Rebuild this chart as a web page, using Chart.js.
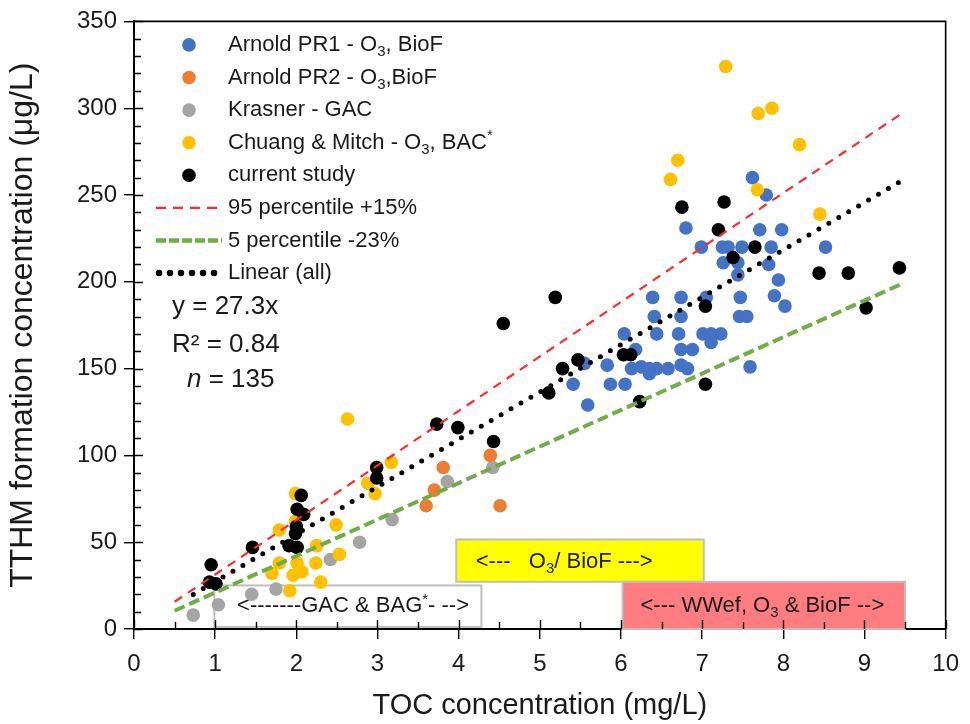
<!DOCTYPE html>
<html>
<head>
<meta charset="utf-8">
<script src="https://cdn.jsdelivr.net/npm/chart.js@4.4.1/dist/chart.umd.min.js"></script>
<style>
  html, body { margin: 0; padding: 0; background: #ffffff; }
  #wrap { width: 970px; height: 724px; }
</style>
</head>
<body>
<div id="wrap"><canvas id="chart" width="970" height="724"></canvas></div>
<script>
// TOC (mg/L) vs TTHM formation (µg/L), one [toc, tthm] pair per sample
const arnoldPR1 = [
  [7.62,260],[7.79,250],[6.80,231],[7.71,230],[7.98,230],[6.99,220],[7.25,220],[7.32,220],
  [7.49,220],[7.85,220],[8.52,220],[7.26,211],[7.44,211],[7.82,210],[7.44,204],[7.94,201],
  [7.89,192],[8.02,186],[7.47,191],[7.46,180],[7.55,180],[6.39,191],[6.74,191],[7.05,191],
  [6.41,180],[6.74,180],[6.04,170],[6.44,170],[6.71,170],[7.01,170],[7.11,170],[7.23,170],
  [7.11,165],[6.18,161],[6.74,161],[6.88,161],[5.83,152],[6.13,150],[6.25,151],[6.35,150],
  [6.44,150],[6.58,150],[6.74,152],[6.82,150],[6.35,147],[5.55,153],[5.41,141],[5.87,141],
  [6.05,141],[5.59,129],[7.59,151]
];
const arnoldPR2 = [[3.60,71],[3.70,80],[3.81,93],[4.39,100],[4.51,71]];
const krasner = [[0.73,8],[1.04,14],[1.45,20],[1.75,23],[2.42,40],[2.78,50],[3.18,63],[3.86,85],[4.42,93]];
const chuangMitch = [
  [7.29,324],[7.69,297],[7.86,300],[8.20,279],[6.70,270],[6.61,259],[7.68,253],[8.45,239],
  [2.63,121],[3.17,96],[2.88,84],[2.97,78],[1.99,78],[1.79,57],[2.49,60],[1.99,62],
  [2.25,48],[2.53,43],[1.79,38],[2.01,38],[2.24,38],[1.70,32],[1.96,31],[2.07,33],
  [2.30,27],[1.92,22]
];
const currentStudy = [
  [5.19,191],[6.75,243],[7.27,246],[7.20,230],[7.65,220],[7.38,214],[8.44,205],[8.80,205],
  [9.43,208],[7.04,186],[9.02,185],[4.55,176],[5.47,155],[5.28,150],[5.11,136],[6.03,158],
  [6.12,158],[7.04,141],[6.23,131],[3.73,118],[3.99,116],[4.43,108],[2.99,93],[2.99,87],
  [2.06,77],[2.01,69],[2.09,66],[2.00,59],[1.99,55],[1.91,48],[2.01,47],[1.46,47],
  [0.95,37],[0.93,27],[1.01,26]
];

// Regression through the origin and its percentile envelope
const fitSlope = 27.3;
const fitR2 = 0.84;
const sampleCount = 135;
const upperPct = 0.15;
const lowerPct = -0.23;
const fitRange = [0.73, 9.43];
const bandRange = [0.5, 9.45];

// Axis ticks
const xTicks = [0, 1, 2, 3, 4, 5, 6, 7, 8, 9, 10];
const yTicks = [0, 50, 100, 150, 200, 250, 300, 350];

// Treatment-regime bands along the TOC axis
const regimeBands = [
  { x0: 3.97, x1: 7.02, y0: 27.2, y1: 51.6, fill: '#FFFF00', text: '<---   O_{3}/ BioF --->', tx: 4.21, ty: 38.5 },
  { x0: 6.02, x1: 9.50, y0: 0,    y1: 27.2, fill: '#FF7C80', text: '<--- WWef, O_{3} & BioF -->', tx: 6.24, ty: 13.5 },
  { x0: 0.99, x1: 4.28, y0: 1.2,  y1: 25.1, fill: '#FFFFFF', text: '<-------GAC & BAG^{*}- -->', tx: 1.27, ty: 13.0 }
];

const FONT = "'Liberation Sans', Arial, Helvetica, sans-serif";
const INK = '#1a1a1a';

const toPoints = arr => arr.map(([x, y]) => ({ x, y }));
const lineOver = (slope, [a, b]) => [{ x: a, y: slope * a }, { x: b, y: slope * b }];

// Text with _{sub} and ^{sup} runs
function parseRich(s) {
  const out = []; const re = /(_|\^)\{([^}]*)\}/g; let last = 0, m;
  while ((m = re.exec(s))) {
    if (m.index > last) out.push({ t: s.slice(last, m.index), k: 0 });
    out.push({ t: m[2], k: m[1] === '_' ? 1 : -1 });
    last = re.lastIndex;
  }
  if (last < s.length) out.push({ t: s.slice(last), k: 0 });
  return out;
}
function drawRich(ctx, s, x, y, size, opts = {}) {
  const parts = parseRich(s);
  const style = opts.italic ? 'italic ' : '';
  let cx = x;
  ctx.textBaseline = 'middle';
  ctx.textAlign = 'left';
  for (const p of parts) {
    const fs = p.k ? size * 0.68 : size;
    ctx.font = `${style}${fs}px ${FONT}`;
    const dy = p.k === 1 ? size * 0.32 : p.k === -1 ? -size * 0.3 : 0;
    ctx.fillText(p.t, cx, y + dy);
    cx += ctx.measureText(p.t).width;
  }
  return cx;
}

const scatterStyle = (color) => ({
  backgroundColor: color, borderColor: color, borderWidth: 0,
  pointRadius: 6.8, pointHoverRadius: 6.8, pointBorderWidth: 0, showLine: false
});

const datasets = [
  { label: 'Arnold PR1 - O_{3}, BioF', data: toPoints(arnoldPR1), order: 5, ...scatterStyle('#4472C4') },
  { label: 'Arnold PR2 - O_{3},BioF', data: toPoints(arnoldPR2), order: 4, ...scatterStyle('#ED7D31') },
  { label: 'Krasner - GAC', data: toPoints(krasner), order: 3, ...scatterStyle('#A5A5A5') },
  { label: 'Chuang & Mitch - O_{3}, BAC^{*}', data: toPoints(chuangMitch), order: 2, ...scatterStyle('#FFC000') },
  { label: 'current study', data: toPoints(currentStudy), order: 1, ...scatterStyle('#000000') },
  { label: '95 percentile +15%', type: 'line', data: lineOver(fitSlope * (1 + upperPct), bandRange), order: -1,
    borderColor: '#FF2A2A', borderWidth: 2.2, borderDash: [9, 7], pointRadius: 0, fill: false, kind: 'line',
    legendWidth: 2.2, legendDash: [10, 7] },
  { label: '5 percentile -23%', type: 'line', data: lineOver(fitSlope * (1 + lowerPct), bandRange), order: -2,
    borderColor: '#70AD47', borderWidth: 4, borderDash: [11, 5], pointRadius: 0, fill: false, kind: 'line',
    legendWidth: 4.5, legendDash: [10, 3] },
  { label: 'Linear (all)', type: 'line', data: lineOver(fitSlope, fitRange), order: -3,
    borderColor: '#000000', borderWidth: 5, borderDash: [0, 11.5], borderCapStyle: 'round', pointRadius: 0, fill: false, kind: 'line',
    legendWidth: 6.5, legendDash: [0, 11] }
];

// Shaded regime bands under the markers
const bandsPlugin = {
  id: 'bands',
  beforeDatasetsDraw(chart) {
    const { ctx, scales: { x, y } } = chart;
    ctx.save();
    for (const b of regimeBands) {
      const l = x.getPixelForValue(b.x0), r = x.getPixelForValue(b.x1);
      const t = y.getPixelForValue(b.y1), btm = y.getPixelForValue(b.y0);
      ctx.fillStyle = b.fill;
      ctx.fillRect(l, t, r - l, btm - t);
      ctx.strokeStyle = '#BFBFBF';
      ctx.lineWidth = 2;
      ctx.strokeRect(l, t, r - l, btm - t);
      ctx.fillStyle = INK;
      drawRich(ctx, b.text, x.getPixelForValue(b.tx), y.getPixelForValue(b.ty), 22);
    }
    ctx.restore();
  }
};

// Inward ticks and the top/right frame
const framePlugin = {
  id: 'frame',
  afterDraw(chart) {
    const { ctx, chartArea: a, scales: { x, y } } = chart;
    ctx.save();
    ctx.strokeStyle = '#000';
    ctx.lineWidth = 1.4;
    ctx.beginPath();
    for (let v = 0; v <= 10.0001; v += 0.5) {
      const px = Math.round(x.getPixelForValue(v)) + 0.5;
      const major = Math.abs(v - Math.round(v)) < 1e-6;
      ctx.moveTo(px, a.bottom);
      ctx.lineTo(px, a.bottom - (major ? 9 : 7));
    }
    for (let v = 0; v <= 350; v += 10) {
      const py = Math.round(y.getPixelForValue(v)) + 0.5;
      ctx.moveTo(a.left, py);
      ctx.lineTo(a.left + (v % 50 === 0 ? 9 : 7), py);
    }
    ctx.stroke();
    ctx.lineWidth = 1.6;
    ctx.beginPath();
    ctx.moveTo(a.left, a.top);
    ctx.lineTo(a.right, a.top);
    ctx.lineTo(a.right, a.bottom);
    ctx.stroke();
    ctx.restore();
  }
};

// Legend and fit statistics in the upper left of the plot
const legendPlugin = {
  id: 'insetLegend',
  afterDatasetsDraw(chart) {
    const { ctx, chartArea: a } = chart;
    ctx.save();
    const rowY0 = a.top + 23.5, rowGap = 32.6;
    const markX = a.left + 55, textX = a.left + 94;
    const lineX0 = a.left + 22, lineX1 = a.left + 88;
    chart.data.datasets.forEach((ds, i) => {
      const yy = rowY0 + i * rowGap;
      if (ds.kind === 'line') {
        ctx.strokeStyle = ds.borderColor;
        ctx.lineWidth = ds.legendWidth;
        ctx.setLineDash(ds.legendDash);
        ctx.lineCap = ds.borderCapStyle || 'butt';
        ctx.beginPath();
        ctx.moveTo(lineX0 + (ds.borderCapStyle ? 3 : 0), yy);
        ctx.lineTo(lineX1, yy);
        ctx.stroke();
        ctx.setLineDash([]);
        ctx.lineCap = 'butt';
      } else {
        ctx.fillStyle = ds.backgroundColor;
        ctx.beginPath();
        ctx.arc(markX, yy, 6.8, 0, Math.PI * 2);
        ctx.fill();
      }
      ctx.fillStyle = INK;
      drawRich(ctx, ds.label, textX, yy, 22);
    });
    ctx.fillStyle = INK;
    drawRich(ctx, `y = ${fitSlope}x`, a.left + 38, a.top + 285, 26);
    drawRich(ctx, `R\u00B2 = ${fitR2}`, a.left + 38, a.top + 323, 26);
    const nx = drawRich(ctx, 'n', a.left + 53, a.top + 358, 26, { italic: true });
    drawRich(ctx, ` = ${sampleCount}`, nx, a.top + 358, 26);
    ctx.restore();
  }
};

new Chart(document.getElementById('chart'), {
  type: 'scatter',
  data: { datasets },
  options: {
    responsive: false,
    devicePixelRatio: 1,
    animation: false,
    layout: { padding: { top: 20, right: 19, left: 0, bottom: 0 } },
    plugins: { legend: { display: false }, tooltip: { enabled: false } },
    scales: {
      x: {
        type: 'linear', min: 0, max: 10,
        afterBuildTicks: s => { s.ticks = xTicks.map(v => ({ value: v })); },
        afterFit: s => { s.height = 95; },
        ticks: { color: INK, font: { family: FONT, size: 24 }, padding: 11, maxRotation: 0, autoSkip: false },
        grid: { drawOnChartArea: false, drawTicks: true, tickLength: 10, color: '#000', lineWidth: 1.4 },
        border: { color: '#000', width: 2 },
        title: { display: true, text: 'TOC concentration (mg/L)', color: INK,
                 font: { family: FONT, size: 29 }, padding: { top: 0, bottom: 1 } }
      },
      y: {
        type: 'linear', min: 0, max: 350,
        afterBuildTicks: s => { s.ticks = yTicks.map(v => ({ value: v })); },
        afterFit: s => { s.width = 134; },
        ticks: { color: INK, font: { family: FONT, size: 24 }, padding: 7 },
        grid: { drawOnChartArea: false, drawTicks: true, tickLength: 10, color: '#000', lineWidth: 1.4 },
        border: { color: '#000', width: 2 },
        title: { display: true, text: 'TTHM formation concentration (\u03BCg/L)', color: INK,
                 font: { family: FONT, size: 32 }, padding: { top: 4, bottom: 0 } }
      }
    }
  },
  plugins: [bandsPlugin, framePlugin, legendPlugin]
});
</script>
</body>
</html>
